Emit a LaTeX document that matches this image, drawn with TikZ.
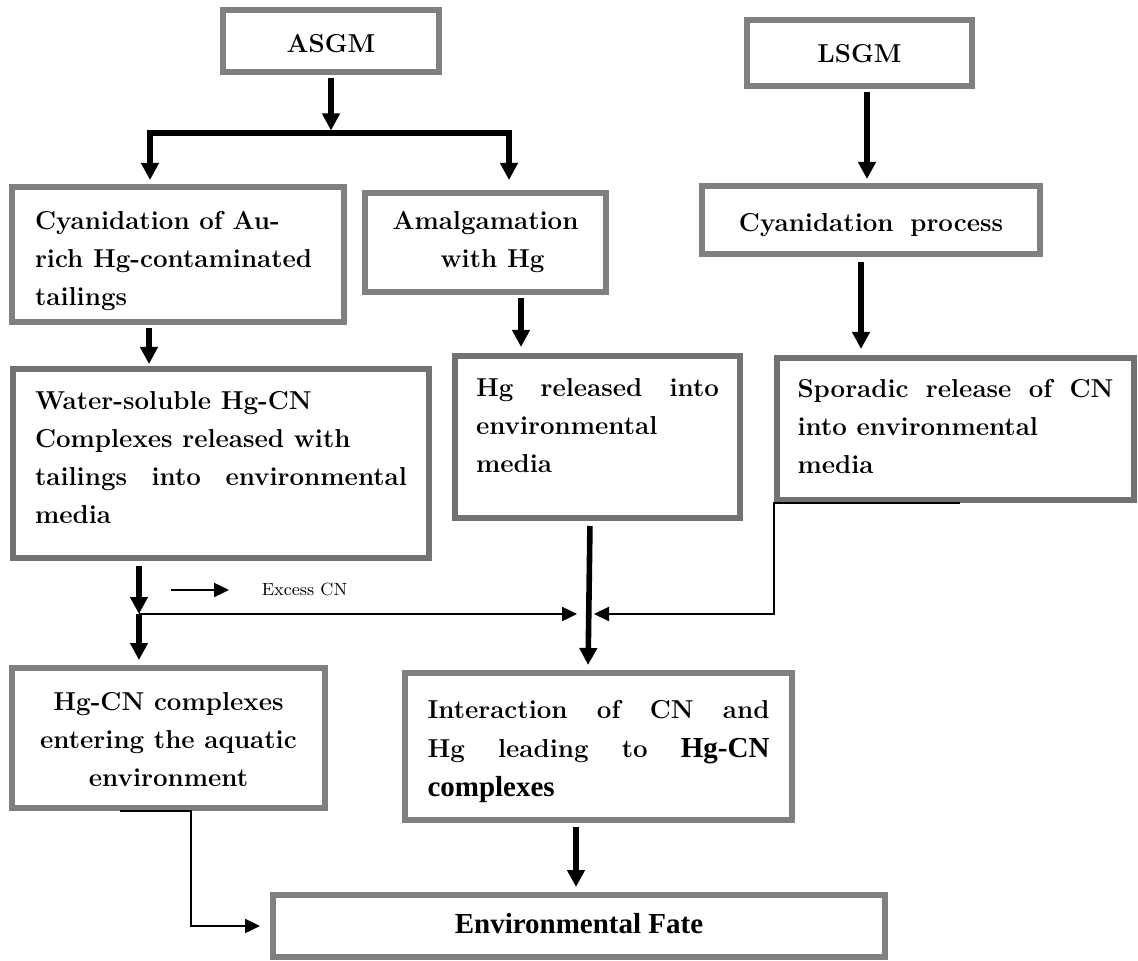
\documentclass[tikz,border=0pt]{standalone}
\usepackage{fontspec}
\newfontfamily\tnr{Liberation Serif}
\usetikzlibrary{arrows.meta,calc}
\definecolor{boxgray}{HTML}{808080}
\definecolor{warmgray}{HTML}{767171}
% #1 text width, #2 box height, #3 alignment, #4 first baseline depth, #5 text
\newcommand\boxpar[5]{\parbox[c][#2][t]{#1}{\fontsize{12.95}{19}\selectfont\bfseries#3\rule{0pt}{#4}#5}}
\newcommand\tnrb[1]{{\tnr\fontsize{14.5}{19}\selectfont\bfseries #1}}

\begin{document}
\begin{tikzpicture}[x=0.5pt,y=-0.5pt,
  box/.style={draw=boxgray, line width=3pt, fill=white, inner sep=0pt, rectangle},
  warmbox/.style={box, draw=warmgray},
  thickarr/.style={line width=2.8pt, -{Triangle[length=8.5pt,width=8.5pt]}},
  thinarr/.style={line width=1.2pt, -{Triangle[length=7.5pt,width=7pt]}}]

\fill[white] (0,0) rectangle (1138,961);
\useasboundingbox (0,0) rectangle (1138,961);

% ---- boxes ----
\node[box, minimum width=108pt, minimum height=31pt] (asgm) at (331,41)
  {\boxpar{108pt}{31pt}{\centering}{21.5pt}{ASGM}};
\node[box, minimum width=112.5pt, minimum height=33pt] (lsgm) at (859.5,53)
  {\boxpar{112.5pt}{33pt}{\centering}{21.5pt}{LSGM}};
\node[box, minimum width=166pt, minimum height=67.5pt] (cyanau) at (178,254.5)
  {\boxpar{143pt}{67.5pt}{\raggedright}{21.5pt}{Cyanidation of Au-\\rich Hg-contaminated\\tailings}};
\node[box, minimum width=120.5pt, minimum height=49.5pt] (amalg) at (485.5,242.5)
  {\boxpar{120.5pt}{49.5pt}{\centering}{18.5pt}{Amalgamation\\\hspace*{7pt}with Hg}};
\node[box, minimum width=169pt, minimum height=34pt] (cyanproc) at (871,220)
  {\boxpar{169pt}{34pt}{\centering}{23pt}{Cyanidation\hspace{3.5pt} process}};
\node[warmbox, minimum width=208pt, minimum height=94.5pt] (water) at (221,463.5)
  {\boxpar{186pt}{94.5pt}{\raggedright}{20.5pt}{Water-soluble Hg-CN\\Complexes released with\\\makebox[\linewidth][s]{tailings into environmental}\\media}};
\node[warmbox, minimum width=142.5pt, minimum height=81pt] (hgrel) at (597.5,437)
  {\boxpar{121.5pt}{81pt}{\raggedright}{20.5pt}{\makebox[\linewidth][s]{Hg released into}\\environmental\\media}};
\node[warmbox, minimum width=178.5pt, minimum height=71pt] (sporadic) at (955.5,429)
  {\boxpar{158pt}{71pt}{\raggedright}{20pt}{\makebox[\linewidth][s]{Sporadic release of CN}\\into environmental\\media}};
\node[box, minimum width=156.5pt, minimum height=70pt] (hgcn) at (168.5,738)
  {\boxpar{156.5pt}{70pt}{\centering}{21pt}{Hg-CN complexes\\entering the aquatic\\environment}};
\node[box, minimum width=193.5pt, minimum height=73.5pt] (inter) at (598.5,746.5)
  {\boxpar{171pt}{73.5pt}{\raggedright\fontsize{12.95}{19.5}\selectfont}{22.5pt}{\makebox[\linewidth][s]{Interaction of CN and}\\\makebox[\linewidth][s]{Hg leading to \tnrb{Hg-CN}}\\\tnrb{complexes}}};
\node[box, minimum width=306pt, minimum height=31pt] (env) at (579,926)
  {\boxpar{306pt}{31pt}{\centering}{19pt}{\tnrb{Environmental Fate}}};

\node[font=\fontsize{8.85}{10}\selectfont, inner sep=0pt] (excess) at (304.5,589) {Excess CN};

% ---- connector columns and junctions ----
\coordinate (split) at (331,133);
\coordinate (bl) at (150,133);
\coordinate (br) at (509,133);
\coordinate (colA) at (149,0);
\coordinate (colB) at (521,0);
\coordinate (colC) at (867,0);
\coordinate (colD) at (861,0);
\coordinate (colE) at (576,0);
\coordinate (j1) at (139,614);
\coordinate (mL) at (577,614);
\coordinate (mR) at (594,614);
\coordinate (exA) at (171,590);
\coordinate (exB) at (229,590);

% ---- connectors ----
\draw[thickarr, shorten <=1.5pt, shorten >=1.25pt] (asgm.south) -- (split);
\draw[line width=2.8pt, {Triangle[length=8.5pt,width=8.5pt]}-{Triangle[length=8.5pt,width=8.5pt]},
      shorten <=2pt, shorten >=5pt] (bl |- cyanau.north) -- (bl) -- (br) -- (br |- amalg.north);
\draw[thickarr, shorten <=1.5pt, shorten >=1pt] (colA |- cyanau.south) -- (colA |- water.north);
\draw[thickarr, shorten <=1.5pt, shorten >=3pt] (colB |- amalg.south) -- (colB |- hgrel.north);
\draw[thickarr, shorten <=1.5pt, shorten >=2pt] (colC |- lsgm.south) -- (colC |- cyanproc.north);
\draw[thickarr, shorten <=2.5pt, shorten >=3pt] (colD |- cyanproc.south) -- (colD |- sporadic.north);
\draw[thickarr, shorten <=2.5pt] (j1 |- water.south) -- (j1);
\draw[thickarr, shorten >=2.5pt] (j1) -- (j1 |- hgcn.north);
\draw[thinarr] (j1) -- (mL);
\draw[thinarr] (exA) -- (exB);
\draw[thickarr, shorten <=2.5pt, shorten >=2.5pt] ($(hgrel.south)+(-7.5,0)$) -- ($(inter.north)+(-10.5,0)$);
\draw[thinarr] ($(sporadic.south west)+(186,0)$) -- (sporadic.south west) |- (mR);
\draw[thickarr, shorten <=2pt, shorten >=2.5pt] (colE |- inter.south) -- (colE |- env.north);
\draw[thinarr, shorten >=5pt] ($(hgcn.south)+(-48.5,0)$) -- ($(hgcn.south)+(22.5,0)$) |- (env.west);
\end{tikzpicture}
\end{document}
